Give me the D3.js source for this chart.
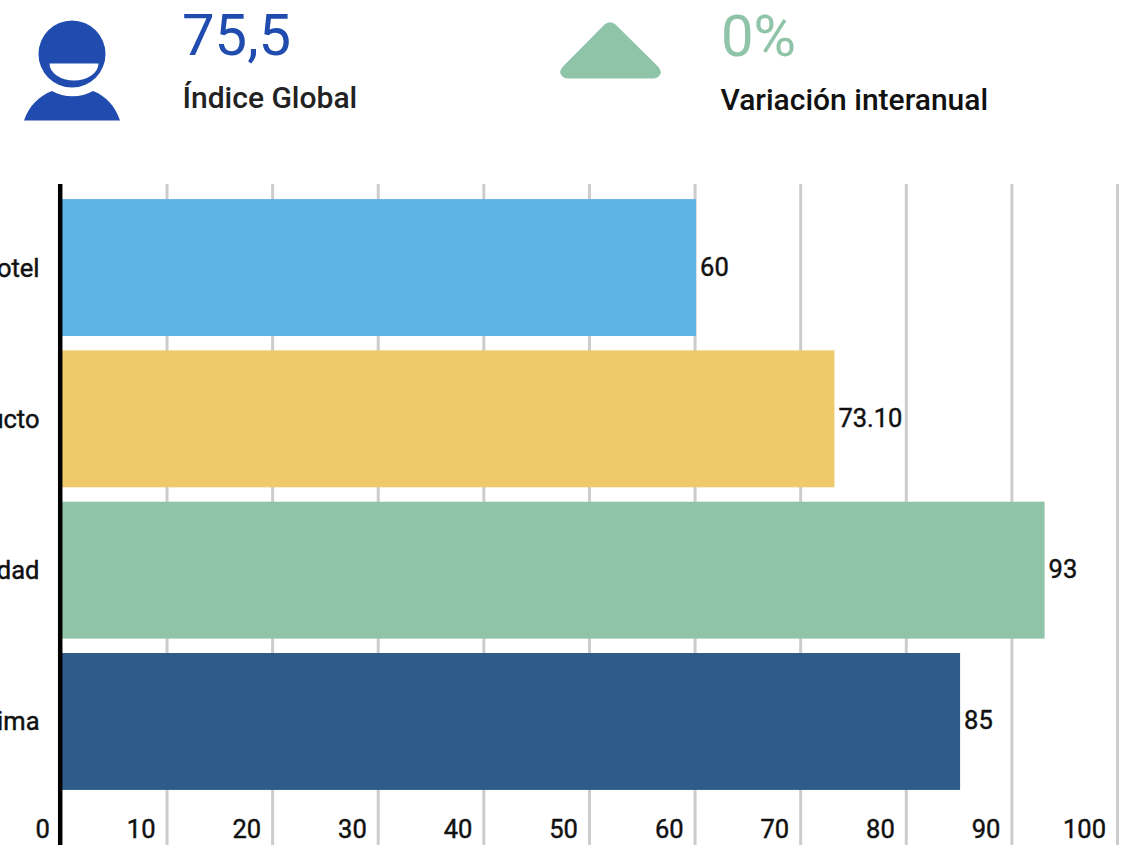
<!DOCTYPE html>
<html><head><meta charset="utf-8">
<script src="https://cdn.jsdelivr.net/npm/d3@7"></script>
<style>html,body{margin:0;padding:0;background:#fff;overflow:hidden}svg{display:block}text{font-family:Roboto,sans-serif}</style>
</head><body><svg id="c" width="1139" height="845"></svg>
<script>
const categories = ["Hotel","Producto","Calidad","Clima"];
const values = [60,73.1,93,85];
const valueLabels = ["60","73.10","93","85"];
const colors = ["#5eb5e5","#efca6d","#8fc4a8","#2f5b8b"];
const ticks = [0,10,20,30,40,50,60,70,80,90,100];

const svg = d3.select("#c");
const x = d3.scaleLinear().domain([0,100]).range([61.4,1117.5]);
const y = d3.scaleBand().domain(categories).range([191.5,797.5]).paddingInner(0.095).paddingOuter(0.05);
const fs = 25.5;

svg.append("g").selectAll("line").data(ticks.slice(1)).join("line")
  .attr("x1",d=>x(d)).attr("x2",d=>x(d)).attr("y1",184).attr("y2",845)
  .attr("stroke","#cccccc").attr("stroke-width",3);

svg.append("g").selectAll("rect").data(values).join("rect")
  .attr("x",x(0)).attr("y",(d,i)=>y(categories[i]))
  .attr("width",d=>x(d)-x(0)+1).attr("height",y.bandwidth())
  .attr("fill",(d,i)=>colors[i]);

svg.append("line").attr("x1",x(0)-1.2).attr("x2",x(0)-1.2).attr("y1",184).attr("y2",845)
  .attr("stroke","#000").attr("stroke-width",4.5);

svg.append("g").selectAll("text").data(ticks).join("text")
  .attr("x",d=>x(d)-11.5).attr("y",838).attr("text-anchor","end")
  .attr("font-size",fs).attr("fill","#111").attr("stroke","#111").attr("stroke-width",0.45)
  .text(d=>d);

svg.append("g").selectAll("text").data(categories).join("text")
  .attr("x",39.5).attr("y",d=>y(d)+y.bandwidth()/2+9).attr("text-anchor","end")
  .attr("font-size",fs).attr("fill","#111").attr("stroke","#111").attr("stroke-width",0.45).text(d=>d);

svg.append("g").selectAll("text").data(values).join("text")
  .attr("x",d=>x(d)+5).attr("y",(d,i)=>y(categories[i])+y.bandwidth()/2+8)
  .attr("font-size",fs).attr("fill","#111").attr("stroke","#111").attr("stroke-width",0.45)
  .text((d,i)=>valueLabels[i]);

// header
const blue="#1f4cae", green="#8fc4a8";
const person=svg.append("g").attr("fill",blue);
person.append("path").attr("fill-rule","evenodd")
  .attr("d","M72 20.500a33.500 33.500 0 1 1 0 67a33.500 33.500 0 1 1 0-67ZM49.500 63.500a24.500 17 0 0 0 49 0Z");
person.append("path")
  .attr("d","M24 120.500C29 106 39 96 52 91C64 98 81 98 93 91C106 96 115 106 120 120.500Z");
svg.append("text").attr("x",182).attr("y",55).attr("font-size",58).attr("fill",blue).text("75,5");
svg.append("text").attr("x",182.5).attr("y",108).attr("font-size",30).attr("font-weight",500).attr("fill","#222").text("Índice Global");
svg.append("path").attr("fill",green)
  .attr("d","M604.500 24.500Q610 20 615.500 24.500L658 66.500Q663 72 659 76Q657 78.500 653 78.500L568 78.500Q564 78.500 562 76Q558 72 563 66.500Z");
svg.append("text").attr("x",721).attr("y",56).attr("font-size",58).attr("fill",green).text("0%");
svg.append("text").attr("x",720.5).attr("y",110).attr("font-size",30).attr("font-weight",500).attr("fill","#111").text("Variación interanual");
</script></body></html>
